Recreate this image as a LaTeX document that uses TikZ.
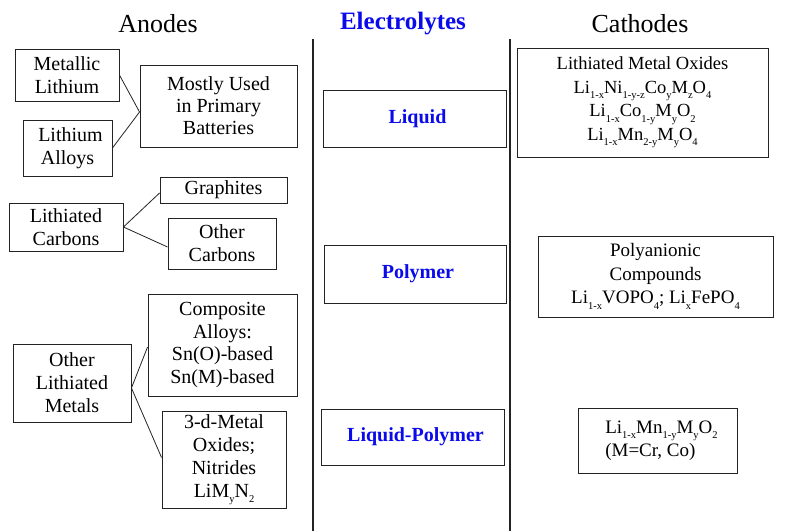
\documentclass[tikz,border=0pt]{standalone}
\usepackage{fontspec}
\setmainfont{Liberation Serif}
\usetikzlibrary{calc}
\definecolor{eblue}{RGB}{10,10,235}
\definecolor{boxgray}{RGB}{35,35,35}
\newcommand\chs[1]{\raisebox{-0.28em}{\fontsize{10.5}{10.5}\selectfont #1}}
\tikzset{
  title/.style={font=\fontsize{26}{28}\selectfont, inner sep=0pt},
  etitle/.style={font=\bfseries\fontsize{25}{28}\selectfont, text=eblue, inner sep=0pt},
  abox/.style={draw=boxgray, line width=0.9pt, inner sep=0pt, align=center,
    font=\fontsize{20}{23}\selectfont},
  ebox/.style={draw=boxgray, line width=0.9pt, inner sep=0pt, align=center,
    text=eblue, font=\bfseries\fontsize{20}{23}\selectfont},
  cbox/.style={draw=boxgray, line width=0.9pt, inner sep=0pt, align=center,
    font=\fontsize{19}{23.5}\selectfont},
  link/.style={draw=boxgray, line width=0.8pt},
  divider/.style={draw=boxgray, line width=2pt}
}
\begin{document}
\begin{tikzpicture}[x=1pt,y=-1pt]
\useasboundingbox (0,0) rectangle (788,531);
% titles
\node[title] (tanode) at (158,24) {Anodes};
\node[etitle] (tel) at (403,24) {Electrolytes};
\node[title] (tcath) at (640,24) {Cathodes};
% dividers
\coordinate (d1t) at (313,39); \coordinate (d1b) at (313,531);
\coordinate (d2t) at (510,39); \coordinate (d2b) at (510,531);
\draw[divider] (d1t) -- (d1b);
\draw[divider] (d2t) -- (d2b);
% anodes
\node[abox, minimum width=104pt, minimum height=52pt] (ml) at (67,75) {Metallic\\Lithium};
\node[abox, minimum width=89pt, minimum height=56pt] (la) at (67.5,148) {\hspace*{6pt}Lithium\\Alloys};
\node[abox, minimum width=157pt, minimum height=82pt, font=\fontsize{20}{22}\selectfont] (mu) at (218.5,106) {Mostly Used\\in Primary\\Batteries};
\node[abox, minimum width=127pt, minimum height=26pt] (gr) at (223.5,190) {Graphites};
\node[abox, minimum width=114pt, minimum height=48pt] (lc) at (66,227) {Lithiated\\Carbons};
\node[abox, minimum width=108pt, minimum height=51pt] (oc) at (222,243.5) {Other\\Carbons};
\node[abox, minimum width=118pt, minimum height=78pt] (olm) at (72,383) {Other\\Lithiated\\Metals};
\node[abox, minimum width=149pt, minimum height=102pt] (ca) at (222.5,345) {Composite\\Alloys:\\Sn(O)-based\\Sn(M)-based};
\node[abox, minimum width=124pt, minimum height=97pt] (tdm) at (224,459.5) {3-d-Metal\\Oxides;\\Nitrides\\LiM\chs{y}N\chs{2}};
% anode connectors
\draw[link] (ml.east) -- ([yshift=-6pt]mu.west);
\draw[link] (la.east) -- ([yshift=-6pt]mu.west);
\draw[link] (lc.east) -- ([yshift=-3pt]gr.west);
\draw[link] (lc.east) -- ([yshift=-3.5pt]oc.west);
\draw[link] ([yshift=-5pt]olm.east) -- ([yshift=-2pt]ca.west);
\draw[link] ([yshift=-5pt]olm.east) -- ([yshift=2pt]tdm.west);
% electrolytes
\node[ebox, minimum width=183pt, minimum height=57pt] (liq) at (414.5,118.5) {\hspace*{6pt}Liquid};
\node[ebox, minimum width=182pt, minimum height=58pt] (pol) at (415,274) {\hspace*{6pt}Polymer};
\node[ebox, minimum width=183pt, minimum height=56pt] (lp) at (412.5,437) {\hspace*{6pt}Liquid-Polymer};
% cathodes
\node[cbox, minimum width=251pt, minimum height=109pt, font=\fontsize{18.5}{23.5}\selectfont] (lmo) at (642.5,102.5)
  {Lithiated Metal Oxides\\
   Li\chs{1-x}Ni\chs{1-y-z}Co\chs{y}M\chs{z}O\chs{4}\\
   Li\chs{1-x}Co\chs{1-y}M\chs{y}O\chs{2}\\
   Li\chs{1-x}Mn\chs{2-y}M\chs{y}O\chs{4}};
\node[cbox, minimum width=235pt, minimum height=81pt] (pac) at (655.5,276.5)
  {Polyanionic\\Compounds\\Li\chs{1-x}VOPO\chs{4}; Li\chs{x}FePO\chs{4}};
\node[cbox, minimum width=159pt, minimum height=65pt, align=left] (lmn) at (657.5,440.5)
  {\hspace*{8pt}Li\chs{1-x}Mn\chs{1-y}M\chs{y}O\chs{2}\\\hspace*{8pt}(M=Cr, Co)};
\end{tikzpicture}
\end{document}
